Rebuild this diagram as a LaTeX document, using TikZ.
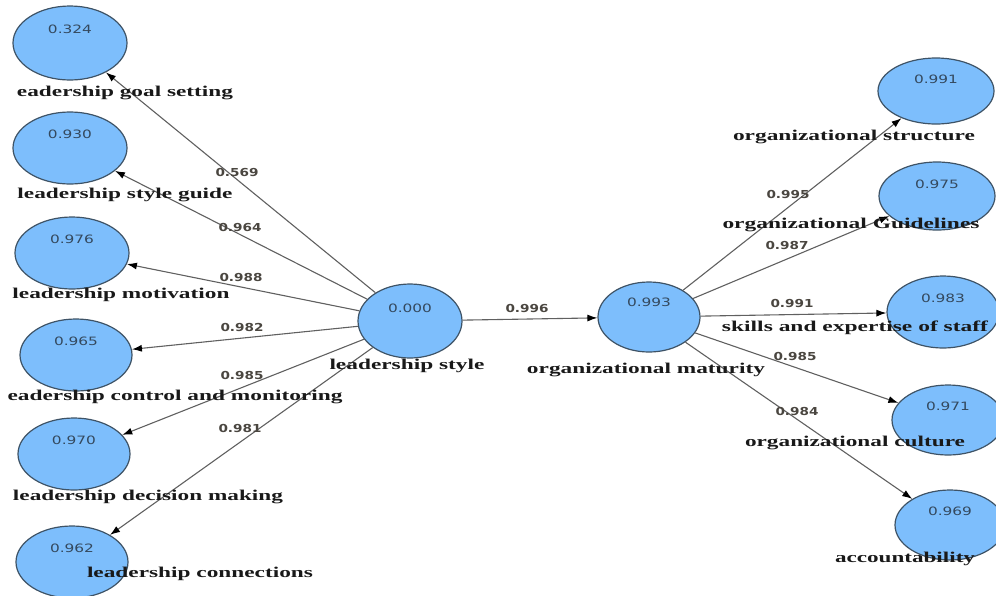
\documentclass[tikz,border=0pt]{standalone}
\usepackage{fontspec}
\setmainfont{Liberation Serif}
\newfontfamily\numfont{DejaVu Sans}
\usetikzlibrary{shapes.geometric,arrows.meta}
% stretch a text horizontally to a given width (pt), keeping its height
\newcommand\fitw[2]{\resizebox{#1pt}{\height}{#2}}
\definecolor{circfill}{HTML}{7DBEFC}
\definecolor{circedge}{HTML}{3E5366}
\definecolor{linegray}{HTML}{606060}
\definecolor{numblue}{HTML}{34495E}
\definecolor{wtgray}{HTML}{4A4640}
\begin{document}
\begin{tikzpicture}[x=1pt,y=-1pt,
  lat/.style 2 args={ellipse, draw=circedge, fill=circfill, line width=1.2pt,
    inner sep=0pt, minimum width=#1, minimum height=#2},
  num/.style={font=\numfont\fontsize{11.5}{13}\selectfont, text=numblue, inner sep=0pt},
  lbl/.style={font=\fontsize{15}{17}\selectfont\bfseries, text=black!90, inner sep=0pt},
  wt/.style={font=\numfont\bfseries\fontsize{11}{13}\selectfont, text=wtgray, inner sep=0pt},
  link/.style={draw=linegray, line width=1.1pt, -{Latex[length=10pt,width=7pt,color=black]}}
]
\useasboundingbox (0,0) rectangle (996,595);

% ---- latent variables ----
\node[lat={114pt}{74pt}] (c1) at (70,43)  {};
\node[lat={114pt}{72pt}] (c2) at (70,148) {};
\node[lat={114pt}{72pt}] (c3) at (72,253) {};
\node[lat={112pt}{72pt}] (c4) at (76,355) {};
\node[lat={112pt}{72pt}] (c5) at (74,454) {};
\node[lat={112pt}{72pt}] (c6) at (72,562) {};
\node[lat={104pt}{74pt}] (ls) at (410,321) {};
\node[lat={102pt}{70pt}] (om) at (649,317) {};
\node[lat={116pt}{66pt}] (r1) at (936,91)  {};
\node[lat={116pt}{68pt}] (r2) at (937,196) {};
\node[lat={112pt}{72pt}] (r3) at (943,312) {};
\node[lat={112pt}{70pt}] (r4) at (948,420) {};
\node[lat={110pt}{70pt}] (r5) at (950,525) {};

% ---- paths ----
\draw[link] (ls) -- (c1);
\draw[link] (ls) -- (c2);
\draw[link] (ls) -- (c3);
\draw[link] (ls) -- (c4);
\draw[link] (ls) -- (c5);
\draw[link] (ls) -- (c6);
\draw[link] (ls) -- (om);
\draw[link] (om) -- (r1);
\draw[link] (om) -- (r2);
\draw[link] (om) -- (r3);
\draw[link] (om) -- (r4);
\draw[link] (om) -- (r5);

% ---- R-squared values ----
\node[num] (c1n) at ([yshift=14pt]c1.center) {\fitw{44}{0.324}};
\node[num] (c2n) at ([yshift=14pt]c2.center) {\fitw{44}{0.930}};
\node[num] (c3n) at ([yshift=14pt]c3.center) {\fitw{44}{0.976}};
\node[num] (c4n) at ([yshift=14pt]c4.center) {\fitw{44}{0.965}};
\node[num] (c5n) at ([yshift=14pt]c5.center) {\fitw{44}{0.970}};
\node[num] (c6n) at ([yshift=14pt]c6.center) {\fitw{44}{0.962}};
\node[num] (lsn) at ([yshift=13pt]ls.center) {\fitw{44}{0.000}};
\node[num] (omn) at ([yshift=15pt]om.center) {\fitw{44}{0.993}};
\node[num] (r1n) at ([yshift=12pt]r1.center) {\fitw{44}{0.991}};
\node[num] (r2n) at ([yshift=12pt]r2.center) {\fitw{44}{0.975}};
\node[num] (r3n) at ([yshift=14pt]r3.center) {\fitw{44}{0.983}};
\node[num] (r4n) at ([yshift=14pt]r4.center) {\fitw{44}{0.971}};
\node[num] (r5n) at ([yshift=14pt]r5.center) {\fitw{44}{0.969}};

% ---- path coefficients ----
\node[wt] (w1) at (237,172) {\fitw{43}{0.569}};
\node[wt] (w2) at (240,227) {\fitw{43}{0.964}};
\node[wt] (w3) at (241,277) {\fitw{43}{0.988}};
\node[wt] (w4) at (242,327) {\fitw{43}{0.982}};
\node[wt] (w5) at (242,375) {\fitw{43}{0.985}};
\node[wt] (w6) at (240,428) {\fitw{43}{0.981}};
\node[wt] (w7) at (527,308) {\fitw{43}{0.996}};
\node[wt] (w8) at (788,194) {\fitw{43}{0.995}};
\node[wt] (w9) at (787,245) {\fitw{43}{0.987}};
\node[wt] (w10) at (792,303) {\fitw{43}{0.991}};
\node[wt] (w11) at (795,356) {\fitw{43}{0.985}};
\node[wt] (w12) at (797,411) {\fitw{43}{0.984}};

% ---- construct names ----
\node[lbl] (c1l) at (125,93)  {\fitw{216}{eadership goal setting}};
\node[lbl] (c2l) at (125,195) {\fitw{215}{leadership style guide}};
\node[lbl] (c3l) at (121,295) {\fitw{217}{leadership motivation}};
\node[lbl] (c4l) at (175,397) {\fitw{335}{eadership control and monitoring}};
\node[lbl] (c5l) at (148,497) {\fitw{270}{leadership decision making}};
\node[lbl] (c6l) at (200,574) {\fitw{226}{leadership connections}};
\node[lbl] (lsl) at (407,366) {\fitw{155}{leadership style}};
\node[lbl] (oml) at (646,370) {\fitw{238}{organizational maturity}};
\node[lbl] (r1l) at (854,137) {\fitw{242}{organizational structure}};
\node[lbl] (r2l) at (851,225) {\fitw{257}{organizational Guidelines}};
\node[lbl] (r3l) at (855,328) {\fitw{266}{skills and expertise of staff}};
\node[lbl] (r4l) at (855,443) {\fitw{220}{organizational culture}};
\node[lbl] (r5l) at (905,559) {\fitw{140}{accountability}};
\end{tikzpicture}
\end{document}
